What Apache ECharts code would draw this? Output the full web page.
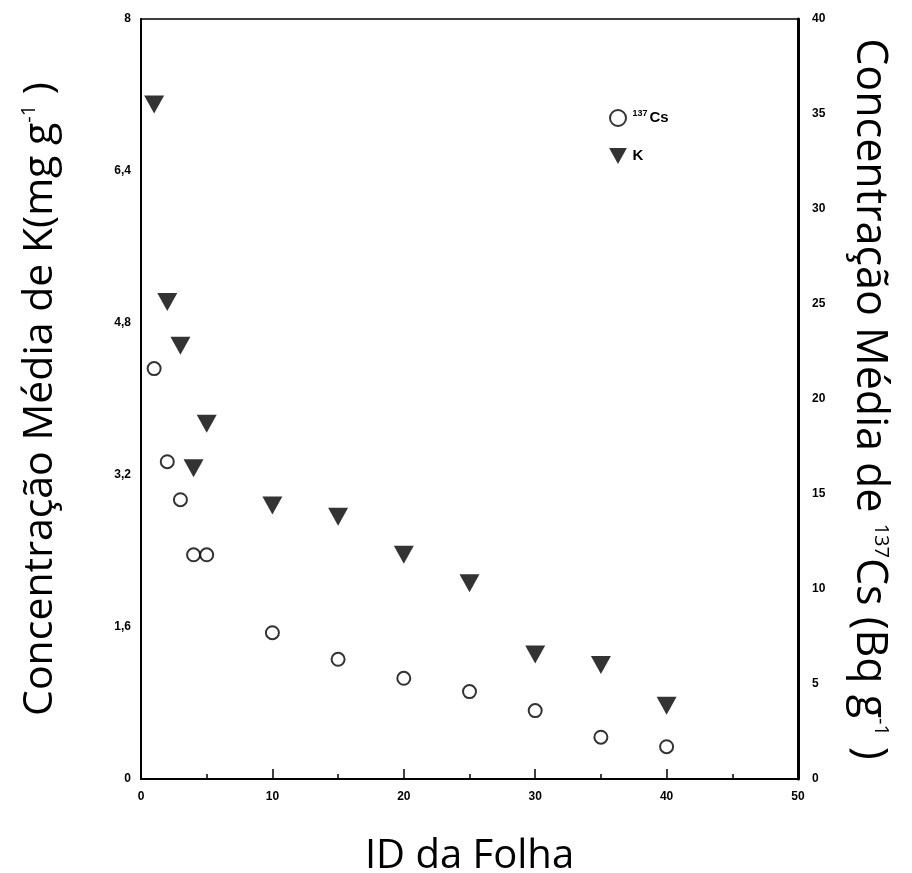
<!DOCTYPE html>
<html>
<head>
<meta charset="utf-8">
<script src="https://cdn.jsdelivr.net/npm/echarts@6/dist/echarts.min.js"></script>
<style>
	html, body { margin: 0; padding: 0; background: #fff; }
	#chart { width: 912px; height: 873px; }
</style>
</head>
<body>
<div id="chart"></div>
<script>
	// ID da folha
	var folhaIds = [1, 2, 3, 4, 5, 10, 15, 20, 25, 30, 35, 40];
	// K (mg g-1), eixo esquerdo
	var kValues = [7.1, 5.02, 4.56, 3.27, 3.74, 2.88, 2.76, 2.36, 2.06, 1.31, 1.2, 0.77];
	// 137Cs (Bq g-1), eixo direito
	var csValues = [21.6, 16.7, 14.7, 11.8, 11.8, 7.7, 6.3, 5.3, 4.6, 3.6, 2.2, 1.7];

	var xTicks = [0, 50, 10];
	var kTicks = [0, 8, 1.6];
	var csTicks = [0, 40, 5];

	var trianglePath = 'path://M0,0 L20,0 L10,18 Z';

	function pares(ys) {
		var out = [];
		for (var i = 0; i < folhaIds.length; i++) {
			out.push([folhaIds[i], ys[i]]);
		}
		return out;
	}

	var tickFont = {
		color: '#000',
		fontFamily: 'Liberation Sans',
		fontWeight: 'bold',
		fontSize: 12
	};

	function titleRich(size) {
		return {
			a: { fontFamily: 'Open Sans', fontSize: size, color: '#000' },
			sup: { fontFamily: 'Open Sans', fontSize: 20, color: '#000', padding: [0, 0, 22, 0] }
		};
	}

	var chart = echarts.init(document.getElementById('chart'));
	var option = {
		backgroundColor: '#fff',
		animation: false,
		grid: {
			left: 141,
			right: 114,
			top: 19,
			bottom: 94,
			outerBoundsMode: 'none',
			show: true,
			borderColor: '#000',
			borderWidth: 1.5
		},
		legend: {
			orient: 'vertical',
			left: 604,
			top: 104,
			itemWidth: 19,
			itemHeight: 16,
			itemGap: 21,
			data: [
				{ name: 'Cs' },
				{ name: 'K', icon: trianglePath }
			],
			formatter: function (name) {
				if (name === 'Cs') {
					return '{s|137}{t|Cs}';
				}
				return '{t|K}';
			},
			textStyle: {
				rich: {
					s: { fontFamily: 'Liberation Sans', fontWeight: 'bold', fontSize: 9, color: '#000', padding: [0, 2, 8, 0] },
					t: { fontFamily: 'Liberation Sans', fontWeight: 'bold', fontSize: 15, color: '#000' }
				}
			}
		},
		xAxis: {
			type: 'value',
			min: xTicks[0],
			max: xTicks[1],
			interval: xTicks[2],
			name: 'ID da Folha',
			nameLocation: 'middle',
			nameGap: 58,
			nameTextStyle: { fontFamily: 'Open Sans', fontSize: 40, color: '#000' },
			axisLine: { lineStyle: { color: '#000', width: 2 } },
			axisTick: { inside: true, length: 10, lineStyle: { color: '#000', width: 1.5 } },
			minorTick: { show: true, splitNumber: 2, length: 5, lineStyle: { color: '#000', width: 1.5 } },
			axisLabel: Object.assign({ margin: 12 }, tickFont),
			splitLine: { show: false }
		},
		yAxis: [{
			type: 'value',
			position: 'left',
			min: kTicks[0],
			max: kTicks[1],
			interval: kTicks[2],
			name: '{a|Concentração Média de K(mg g}{sup|-1}{a| )}',
			nameLocation: 'middle',
			nameRotate: 90,
			nameGap: 80,
			nameTextStyle: { rich: titleRich(41) },
			axisLine: { show: true, lineStyle: { color: '#000', width: 2 } },
			axisTick: { show: false },
			axisLabel: Object.assign({
				margin: 10,
				formatter: function (v) {
					return String(+v.toFixed(1)).replace('.', ',');
				}
			}, tickFont),
			splitLine: { show: false }
		}, {
			type: 'value',
			position: 'right',
			min: csTicks[0],
			max: csTicks[1],
			interval: csTicks[2],
			name: '{a|Concentração Média de }{sup|137}{a|Cs (Bq g}{sup|-1}{a| )}',
			nameLocation: 'middle',
			nameRotate: -90,
			nameGap: 50,
			nameTextStyle: { rich: titleRich(43) },
			axisLine: { show: true, lineStyle: { color: '#000', width: 3 } },
			axisTick: { show: false },
			axisLabel: Object.assign({ margin: 14 }, tickFont),
			splitLine: { show: false }
		}],
		series: [{
			name: 'Cs',
			type: 'scatter',
			yAxisIndex: 1,
			symbol: 'emptyCircle',
			symbolSize: 13,
			itemStyle: { color: '#000', borderColor: '#000', borderWidth: 2 },
			data: pares(csValues)
		}, {
			name: 'K',
			type: 'scatter',
			yAxisIndex: 0,
			symbol: trianglePath,
			symbolSize: [20, 18],
			itemStyle: { color: '#000' },
			data: pares(kValues)
		}]
	};
	chart.setOption(option);
</script>
</body>
</html>
